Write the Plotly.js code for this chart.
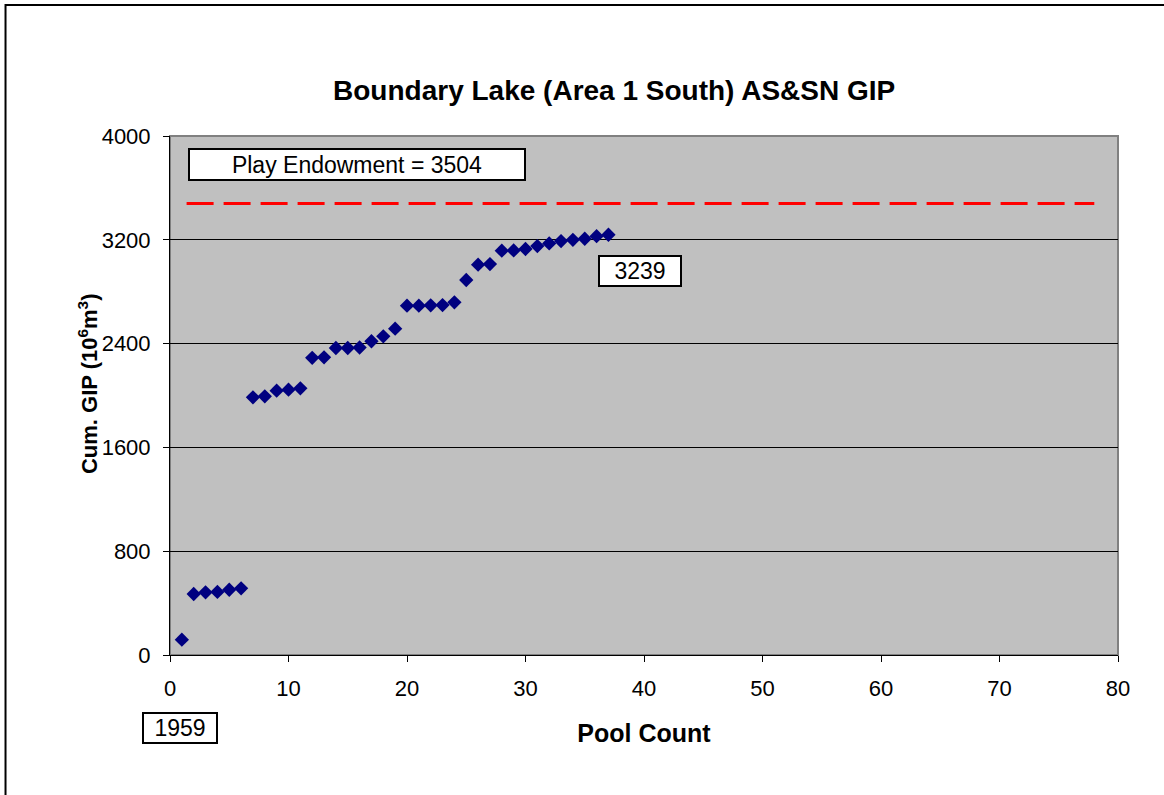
<!DOCTYPE html>
<html>
<head>
<meta charset="utf-8">
<script src="https://cdn.plot.ly/plotly-3.0.1.min.js"></script>
<style>
  body { margin: 0; background: #fff; }
  #chart { width: 1164px; height: 795px; }
</style>
</head>
<body>
<div id="chart"></div>
<script>
// pool count vs cumulative GIP (10^6 m^3)
const poolCount = [1, 2, 3, 4, 5, 6, 7, 8, 9, 10, 11, 12, 13, 14, 15, 16, 17, 18, 19,
    20, 21, 22, 23, 24, 25, 26, 27, 28, 29, 30, 31, 32, 33, 34, 35, 36, 37];
const cumGip = [118, 470, 483, 486, 503, 514, 1986, 1994, 2037, 2045, 2055,
    2290, 2294, 2366, 2366, 2370, 2418, 2456, 2515,
    2692, 2692, 2695, 2697, 2718, 2890, 3008, 3013, 3116, 3118, 3129,
    3152, 3172, 3190, 3200, 3208, 3228, 3239];

// play endowment line (drawn a little under the 3504 label in the source)
const endowmentX = [1.4, 78];
const endowmentY = [3480, 3480];

const yTicks = [0, 800, 1600, 2400, 3200, 4000];

const font = "Arial, 'Liberation Sans', sans-serif";

function drawChart(id) {
    let trace1 = {
        x: poolCount,
        y: cumGip,
        type: "scatter",
        mode: "markers",
        marker: {
            symbol: "diamond",
            size: 11,
            color: "#000080",
            line: {width: 0},
        },
        cliponaxis: false,
    };

    let trace2 = {
        x: endowmentX,
        y: endowmentY,
        type: "scatter",
        mode: "lines",
        line: {
            color: "#FF0000",
            width: 3,
            dash: "27px,10px",
        },
    };

    let boxFont = {family: font, size: 23, color: "#000"};

    let layout = {
        width: 1164,
        height: 795,
        margin: {l: 170, r: 46, t: 136, b: 140},
        paper_bgcolor: "#FFFFFF",
        plot_bgcolor: "#C0C0C0",
        showlegend: false,
        font: {family: font, size: 22, color: "#000"},
        title: {
            text: "<b>Boundary Lake (Area 1 South) AS&SN GIP</b>",
            font: {family: font, size: 28, color: "#000"},
            x: 0.5276,
            xanchor: "center",
            y: 0.887,
            yanchor: "middle",
        },
        xaxis: {
            range: [0, 80],
            dtick: 10,
            tick0: 0,
            showgrid: false,
            zeroline: false,
            showline: true,
            linecolor: "#000",
            linewidth: 1,
            ticks: "outside",
            ticklen: 6,
            tickcolor: "#000",
            ticklabelstandoff: 8,
            tickfont: {family: font, size: 22},
            title: {
                text: "<b>Pool Count</b>",
                font: {family: font, size: 25},
                standoff: 24,
            },
        },
        yaxis: {
            range: [0, 4000],
            tickvals: yTicks,
            showgrid: true,
            gridcolor: "#000",
            gridwidth: 1,
            zeroline: false,
            showline: true,
            linecolor: "#000",
            linewidth: 1,
            ticks: "outside",
            ticklen: 6,
            tickcolor: "#000",
            ticklabelstandoff: 8,
            tickfont: {family: font, size: 22},
        },
        shapes: [
            // grey frame of the plot area (top and right edges)
            {
                type: "rect", xref: "paper", yref: "paper",
                x0: 0, x1: 1, y0: 0, y1: 1,
                line: {color: "#808080", width: 2},
                layer: "below",
            },
            // outer chart border
            {
                type: "rect", xref: "paper", yref: "paper",
                x0: -0.1735, x1: 1.2, y0: -0.4, y1: 1.2524,
                line: {color: "#000", width: 2},
            },
        ],
        annotations: [
            // y axis title, placed by hand to sit where the source has it
            {
                text: "<b>Cum. GIP (10<sup>6</sup>m<sup>3</sup>)</b>",
                xref: "paper", yref: "paper",
                x: -0.0865, y: 0.524,
                xanchor: "center", yanchor: "middle",
                textangle: -90,
                showarrow: false,
                font: {family: font, size: 22, color: "#000"},
            },
            {
                text: "Play Endowment = 3504",
                xref: "x", yref: "y",
                x: 15.78, y: 3784,
                xanchor: "center", yanchor: "middle",
                showarrow: false,
                width: 334, height: 29,
                bgcolor: "#FFFFFF",
                bordercolor: "#000",
                borderwidth: 2,
                borderpad: 0,
                font: boxFont,
            },
            {
                text: "3239",
                xref: "x", yref: "y",
                x: 39.66, y: 2963,
                xanchor: "center", yanchor: "middle",
                showarrow: false,
                width: 80, height: 28,
                bgcolor: "#FFFFFF",
                bordercolor: "#000",
                borderwidth: 2,
                borderpad: 0,
                font: boxFont,
            },
            {
                text: "1959",
                xref: "paper", yref: "paper",
                x: 0.0105, y: -0.1407,
                xanchor: "center", yanchor: "middle",
                showarrow: false,
                width: 72, height: 28,
                bgcolor: "#FFFFFF",
                bordercolor: "#000",
                borderwidth: 2,
                borderpad: 0,
                font: boxFont,
            },
        ],
    };

    let data = [trace2, trace1];
    let config = {responsive: false, displayModeBar: false};

    Plotly.newPlot(id, data, layout, config);
}

drawChart("chart");
</script>
</body>
</html>
